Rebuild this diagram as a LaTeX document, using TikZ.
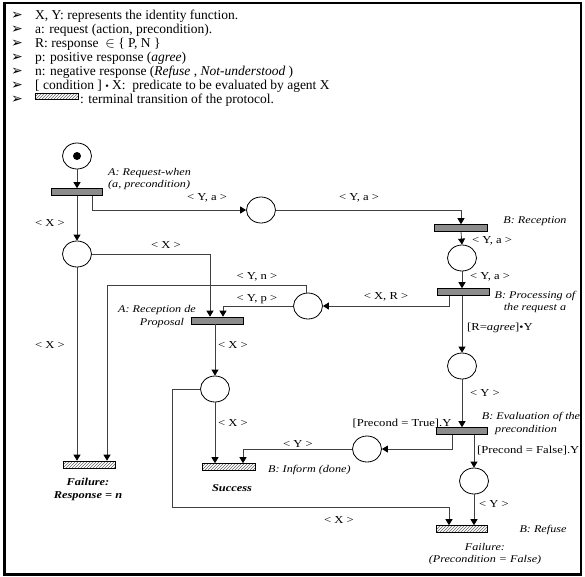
\documentclass[tikz,border=0pt]{standalone}
\usepackage{fontspec}
\setmainfont{Liberation Serif}
\newfontfamily\lblfont[FakeStretch=1.18]{Liberation Serif}
\newfontfamily\dejavu{DejaVu Sans}
\usetikzlibrary{arrows.meta,patterns,shapes.geometric}
\newcommand{\smdot}{\raisebox{0.3pt}{\fontsize{10}{10}\selectfont•}}
\begin{document}
\begin{tikzpicture}[x=1pt,y=-1pt,
  place/.style={draw=black, line width=0.8pt, ellipse, minimum width=29pt, minimum height=26pt, inner sep=0pt},
  trans/.style={draw=black, fill=black!45, line width=0.6pt, minimum width=51pt, minimum height=7pt, inner sep=0pt},
  term/.style={draw=black, pattern=north east lines, pattern color=black!60, line width=0.6pt, minimum width=52pt, minimum height=7pt, inner sep=0pt},
  arc/.style={draw=black!75, line width=0.8pt, -{Triangle[width=7pt,length=6pt,color=black]}},
  lbl/.style={font={\lblfont\fontsize{10.7}{13}\selectfont}, inner sep=0pt, align=center},
  ilbl/.style={font={\lblfont\itshape\fontsize{10.3}{13}\selectfont}, inner sep=0pt, align=center},
  bilbl/.style={font={\lblfont\bfseries\itshape\fontsize{10.5}{13}\selectfont}, inner sep=0pt, align=center},
  legtext/.style={font={\fontsize{13.5}{14}\selectfont}, inner sep=0pt, anchor=base west},
  legbul/.style={font={\dejavu\fontsize{14}{14}\selectfont}, inner sep=0pt}
]
\useasboundingbox (0,0) rectangle (585,576);
\draw[line width=2.5pt] (4.5,3) rectangle (581,574.5);

% legend
\foreach \i in {0,...,6} {\node[legbul] (bul\i) at (17,{15.5+14*\i}) {➢};}
\node[legtext] (leg1) at (35,19.5) {X, Y: represents the identity function.};
\node[legtext] (leg2) at (35,33.5) {a: request (action, precondition).};
\node[legtext] (leg3) at (35,47.5) {R: response \ $\in$ \{ P, N \}};
\node[legtext] (leg4) at (35,61.5) {p: positive response (\textit{agree})};
\node[legtext] (leg5) at (35,75.5) {n: negative response (\textit{Refuse} , \textit{Not-understood} )};
\node[legtext] (leg6) at (35,89.5) {[ condition ] \smdot{} X: \ predicate to be evaluated by agent X};
\node[term, minimum width=43pt, minimum height=6pt] (legbox) at (56.5,96) {};
\node[legtext] (leg7) at (80,103.5) {: terminal transition of the protocol.};

% places
\node[place] (p0) at (77,156) {};
\node[circle, fill=black, minimum size=8pt, inner sep=0pt] (tok) at (p0) {};
\node[place] (p1) at (261,210) {};
\node[place] (p2) at (77,254) {};
\node[place] (p3) at (462,258) {};
\node[place] (pxr) at (308,306) {};
\node[place] (p4) at (215,389) {};
\node[place] (p5) at (462,366) {};
\node[place] (pinf) at (367,449) {};
\node[place] (p6) at (474,481) {};

% transitions
\node[trans] (t1) at (77,192) {};
\node[trans, minimum width=53pt] (tbr) at (461,228) {};
\node[trans, minimum width=52pt] (tbp) at (463,292) {};
\node[trans, minimum width=52pt] (ta2) at (217,320.5) {};
\node[trans] (tbe) at (462,431) {};
\node[term] (tf1) at (89,464.5) {};
\node[term, minimum width=53pt] (tsucc) at (229,467) {};
\node[term, minimum width=51pt] (tref) at (462,529) {};

% coordinates
\coordinate (c16) at (107,285);
\coordinate (c20) at (172,507);

% arcs
\draw[arc] (p0.south) -- (t1.north);
\draw[arc] ([xshift=15pt]t1.south) |- (p1.west);
\draw[arc] (t1.south) -- (p2.north);
\draw[arc] (p1.east) -| (tbr.north);
\draw[arc] (tbr.south) -- (p3.north);
\draw[arc] (p3.south) -- (p3.south |- tbp.north);
\draw[arc] ([xshift=-14pt]tbp.south) |- (pxr.east);
\draw[arc] (p5.north |- tbp.south) -- (p5.north);
\draw[arc] (p5.south) -- (tbe.north);
\draw[arc] ([xshift=-10pt]tbe.south) |- (pinf.east);
\draw[arc] (p6.north |- tbe.south) -- (p6.north);
\draw[arc] (p6.south) -- (p6.south |- tref.north);
\draw[arc] (pinf.west) -| ([xshift=14pt]tsucc.north);
\draw[arc] (p2.east) -| ([xshift=-7pt]ta2.north);
\draw[arc] (pxr.west) -| ([xshift=6pt]ta2.north);
\draw[arc] ([xshift=-2pt]pxr.north) |- (c16) -- (c16 |- tf1.north);
\draw[arc] (p2.south) -- (p2.south |- tf1.north);
\draw[arc] (p4.north |- ta2.south) -- (p4.north);
\draw[arc] (p4.south) -- (p4.south |- tsucc.north);
\draw[arc] (p4.west) -| (c20) -| ([xshift=-13pt]tref.north);

% labels
\node[ilbl, anchor=west] (la1) at (108,173) {A: Request-when};
\node[ilbl, anchor=west] (la2) at (108,185) {(a, precondition)};
\node[lbl] (lya1) at (207,198) {< Y, a >};
\node[lbl] (lx1) at (50,223) {< X >};
\node[lbl] (lx2) at (166,245) {< X >};
\node[lbl] (lyn) at (257,277) {< Y, n >};
\node[lbl] (lyp) at (257,299) {< Y, p >};
\node[ilbl] (lrec1) at (157,310) {A: Reception de};
\node[ilbl] (lrec2) at (162,323) {Proposal};
\node[lbl] (lx3) at (50,345) {< X >};
\node[lbl] (lx4) at (233,345) {< X >};
\node[lbl] (lya2) at (359,198) {< Y, a >};
\node[ilbl] (lbrec) at (535,221) {B: Reception};
\node[lbl] (lya3) at (492,241) {< Y, a >};
\node[lbl] (lya4) at (490,277) {< Y, a >};
\node[ilbl] (lbp1) at (535,296) {B: Processing of};
\node[ilbl] (lbp2) at (535,308) {the request a};
\node[lbl] (lxr) at (386,297) {< X, R >};
\node[lbl, anchor=west] (lagree) at (467,328) {[R=\textit{agree}]\smdot Y};
\node[lbl] (ly1) at (485,393) {< Y >};
\node[ilbl] (lbe1) at (531,417) {B: Evaluation of the};
\node[ilbl] (lbe2) at (526,430) {precondition};
\node[lbl] (ltrue) at (402,423) {[Precond = True].Y};
\node[lbl, anchor=west] (lfalse) at (477,450) {[Precond = False].Y};
\node[lbl] (ly2) at (298,444) {< Y >};
\node[ilbl, anchor=west] (linf) at (268,470) {B: Inform (done)};
\node[lbl] (lx5) at (233,423) {< X >};
\node[bilbl] (lsucc) at (232,488) {Success};
\node[bilbl] (lf1) at (88,482) {Failure:};
\node[bilbl] (lf2) at (88,496) {Response = n};
\node[lbl] (ly3) at (494,504) {< Y >};
\node[lbl] (lx6) at (339,520) {< X >};
\node[ilbl] (lbref) at (543,530) {B: Refuse};
\node[ilbl] (lf3) at (485,547) {Failure:};
\node[ilbl] (lf4) at (485,560) {(Precondition = False)};
\end{tikzpicture}
\end{document}
